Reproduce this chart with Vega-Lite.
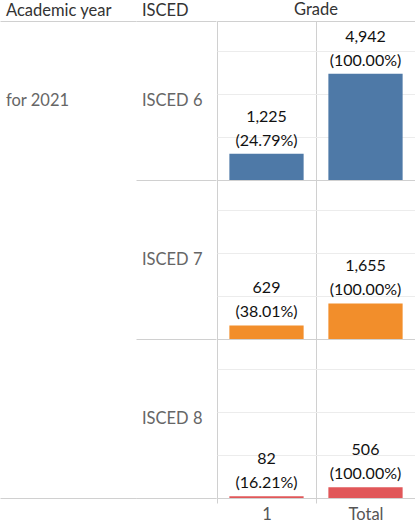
{
  "$schema": "https://vega.github.io/schema/vega-lite/v6.json",
  "padding": {"top": 2, "left": 0, "right": 0, "bottom": 0},
  "background": "white",
  "config": {
    "font": "Lato",
    "view": {"stroke": null},
    "title": {"fontSize": 16.5, "fontWeight": "normal", "color": "#333333", "anchor": "start", "offset": 2, "baseline": "bottom"}
  },
  "datasets": {
    "grades": [
      {"year": "for 2021", "isced": "ISCED 6", "grade": "1", "value": 1225, "share": "(24.79%)"},
      {"year": "for 2021", "isced": "ISCED 6", "grade": "Total", "value": 4942, "share": "(100.00%)"},
      {"year": "for 2021", "isced": "ISCED 7", "grade": "1", "value": 629, "share": "(38.01%)"},
      {"year": "for 2021", "isced": "ISCED 7", "grade": "Total", "value": 1655, "share": "(100.00%)"},
      {"year": "for 2021", "isced": "ISCED 8", "grade": "1", "value": 82, "share": "(16.21%)"},
      {"year": "for 2021", "isced": "ISCED 8", "grade": "Total", "value": 506, "share": "(100.00%)"}
    ]
  },
  "data": {"name": "grades"},
  "spacing": 0,
  "hconcat": [
    {
      "title": {"text": "Academic year", "dx": 6},
      "width": 136,
      "height": 477,
      "transform": [
        {"filter": {"field": "isced", "equal": "ISCED 6"}},
        {"filter": {"field": "grade", "equal": "Total"}}
      ],
      "mark": {"type": "text", "align": "left", "baseline": "middle", "dx": 6, "fontSize": 16.5, "color": "#666666"},
      "encoding": {
        "x": {"datum": 0, "type": "quantitative", "scale": {"domain": [0, 1]}, "axis": {"orient": "bottom", "labels": false, "ticks": false, "grid": false, "domain": true, "domainColor": "#d0d0d0", "title": null}},
        "y": {"field": "isced", "type": "nominal", "scale": {"type": "band", "domain": ["ISCED 6", "ISCED 7", "ISCED 8"], "paddingInner": 0, "paddingOuter": 0}, "axis": {"labels": false, "ticks": false, "domain": false, "title": null, "grid": true, "values": ["ISCED 6"], "bandPosition": 0, "gridColor": "#d0d0d0"}},
        "text": {"field": "year"}
      }
    },
    {
      "title": {"text": "ISCED", "dx": 6},
      "width": 80,
      "height": 477,
      "transform": [{"filter": {"field": "grade", "equal": "Total"}}],
      "mark": {"type": "text", "align": "left", "baseline": "middle", "dx": 6, "fontSize": 16.5, "color": "#666666"},
      "encoding": {
        "x": {"datum": 0, "type": "quantitative", "scale": {"domain": [0, 1]}, "axis": {"orient": "bottom", "labels": false, "ticks": false, "grid": false, "domain": true, "domainColor": "#d0d0d0", "title": null}},
        "y": {"field": "isced", "type": "nominal", "scale": {"type": "band", "paddingInner": 0, "paddingOuter": 0}, "axis": {"labels": false, "ticks": false, "domain": false, "title": null, "grid": true, "tickBand": "extent", "gridColor": "#d0d0d0"}},
        "text": {"field": "isced"}
      }
    },
    {
      "title": {"text": "Grade", "anchor": "middle"},
      "bounds": "flush",
      "facet": {"row": {"field": "isced", "type": "nominal", "header": null}},
      "spacing": {"row": 0},
      "spec": {
        "width": 198,
        "height": 159,
        "view": {"stroke": "#d0d0d0"},
        "encoding": {
          "x": {"field": "grade", "type": "nominal", "scale": {"type": "band", "paddingInner": 0, "paddingOuter": 0}, "axis": {"title": null, "labelAngle": 0, "labelFontSize": 16.5, "labelColor": "#555555", "labelPadding": 3, "tickSize": 5, "tickColor": "#d0d0d0", "tickBand": "extent", "grid": true, "gridColor": "#d0d0d0", "domain": false}},
          "y": {"field": "value", "type": "quantitative", "scale": {"domain": [0, 7400], "nice": false}, "axis": {"title": null, "labels": false, "ticks": false, "domain": false, "grid": true, "values": [2000, 4000, 6000], "gridColor": "#ececec"}}
        },
        "layer": [
          {
            "mark": {"type": "bar", "width": {"band": 0.75}},
            "encoding": {"color": {"field": "isced", "type": "nominal", "scale": {"range": ["#4e79a7", "#f28e2b", "#e15759"]}, "legend": null}}
          },
          {
            "mark": {"type": "text", "baseline": "alphabetic", "dy": -8, "fontSize": 16, "color": "#111111"},
            "encoding": {"text": {"field": "share"}}
          },
          {
            "mark": {"type": "text", "baseline": "alphabetic", "dy": -32, "fontSize": 16, "color": "#111111"},
            "encoding": {"text": {"field": "value", "type": "quantitative", "format": ","}}
          }
        ]
      }
    }
  ]
}
